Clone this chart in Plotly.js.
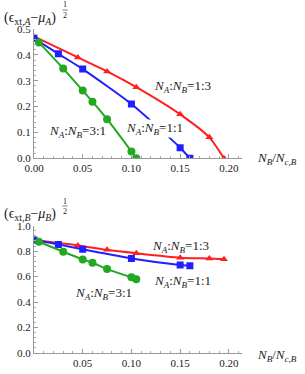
<!DOCTYPE html>
<html><head><meta charset="utf-8">
<script src="https://cdn.plot.ly/plotly-3.0.1.min.js"></script>
<style>html,body{margin:0;padding:0;background:#fff}#chart{width:305px;height:374px;position:relative}#veil{position:absolute;left:0;top:0;width:305px;height:374px;background:rgba(255,255,255,0.001);pointer-events:none}</style>
</head><body><div id="chart"></div>
<script>
// Data
const xRed   = [0, 0.045, 0.075, 0.105, 0.15, 0.18, 0.195];
const yRedA  = [0.471, 0.39, 0.336, 0.275, 0.17, 0.081, 0.0];
const yRedB  = [0.887, 0.845, 0.81, 0.783, 0.748, 0.742, 0.737];
const xBlue  = [0, 0.025, 0.05, 0.1, 0.15, 0.16];
const yBlueA = [0.464, 0.404, 0.345, 0.21, 0.041, 0.0];
const yBlueB = [0.887, 0.853, 0.814, 0.743, 0.692, 0.686];
const xGreen = [0.005, 0.03, 0.05, 0.06, 0.075, 0.1, 0.105];
const yGreenA= [0.448, 0.347, 0.262, 0.219, 0.151, 0.026, 0.0];
const yGreenB= [0.874, 0.795, 0.735, 0.709, 0.659, 0.594, 0.58];
const ratioLabels = ['1:3', '1:1', '3:1'];
const xTickTop = [0, 0.05, 0.10, 0.15, 0.20];
const xTickBot = [0.05, 0.10, 0.15, 0.20];
const yTickTop = [0, 0.1, 0.2, 0.3, 0.4, 0.5];
const yTickBot = [0, 0.2, 0.4, 0.6, 0.8, 1.0];

const RED='#ff1f1f', BLUE='#1f1fff', GREEN='#22a822';
const FONT="Liberation Serif";
const W=305, H=374, ML=34, MR=63, MT=29, MB=21;
const PW=W-ML-MR, PH=H-MT-MB;
const px=x=>(x-ML)/PW, py=y=>(H-MB-y)/PH;

function tr(x,y,c,sym,sz,xa,ya){
  return {x:x,y:y,xaxis:xa,yaxis:ya,mode:'lines+markers',type:'scatter',
    line:{color:c,width:2,shape:'spline',smoothing:0.6},
    marker:{color:c,symbol:sym,size:sz},showlegend:false,hoverinfo:'skip'};
}
const data=[
  tr(xRed,yRedA,RED,'triangle-up',7,'x','y'),
  tr(xBlue,yBlueA,BLUE,'square',7,'x','y'),
  tr(xGreen,yGreenA,GREEN,'circle',8,'x','y'),
  tr(xRed,yRedB,RED,'triangle-up',7,'x2','y2'),
  tr(xBlue,yBlueB,BLUE,'square',7,'x2','y2'),
  tr(xGreen,yGreenB,GREEN,'circle',8,'x2','y2')
];
function axis(range,domain,anchor,vals,dec,mdt){
  return {range:range,domain:domain,anchor:anchor,tickmode:'array',tickvals:vals,ticktext:vals.map(v=>v.toFixed(dec)),
    showline:true,linecolor:'#999',linewidth:1,ticks:'inside',ticklen:4,tickcolor:'#999',
    showgrid:false,zeroline:false,tickfont:{family:FONT,size:11,color:'#222'},
    minor:{dtick:mdt,ticks:'inside',ticklen:2,tickcolor:'#aaa',showgrid:false}};
}
function lab(r){return '<i>N<sub>A</sub></i>:<i>N<sub>B</sub></i>='+r;}
function ann(text,x,y,size,extra){
  return Object.assign({text:text,xref:'paper',yref:'paper',x:px(x),y:py(y),showarrow:false,
    xanchor:'center',yanchor:'middle',font:{family:FONT,size:size,color:'#222'}},extra||{});
}
const annotations=[];
const shapes=[];
[['A',0],['B',196]].forEach(([s,off])=>{
  annotations.push(ann('(ϵ<sub>xt,<i>'+s+'</i></sub>−<i>μ<sub>'+s+'</sub></i>)',2,18+off,14,{xanchor:'left'}));
  annotations.push(ann('1',65,5+off,8));
  annotations.push(ann('2',65,15.5+off,8));
  shapes.push({type:'line',xref:'paper',yref:'paper',x0:px(62.5),x1:px(67.5),y0:py(10+off),y1:py(10+off),line:{color:'#222',width:0.6}});
  annotations.push(ann('<i>N<sub>B</sub></i>/<i>N<sub>c,B</sub></i>',277,(s==='A'?158:355),13));
});
annotations.push(ann(lab(ratioLabels[0]),182.5,86,13));
annotations.push(ann(lab(ratioLabels[1]),154.5,128,13,{bgcolor:'#fff',borderpad:0}));
annotations.push(ann(lab(ratioLabels[2]),77,131,13));
annotations.push(ann(lab(ratioLabels[0]),180.5,246.7,13));
annotations.push(ann(lab(ratioLabels[1]),182.5,281.7,13));
annotations.push(ann(lab(ratioLabels[2]),103,293,13));

const layout={width:W,height:H,margin:{l:ML,r:MR,t:MT,b:MB},paper_bgcolor:'#fff',plot_bgcolor:'#fff',
  font:{family:FONT,color:'#222'},
  xaxis:axis([0,0.2135],[0,1],'y',xTickTop,2,0.01),
  yaxis:axis([0,0.5],[0.601,1],'x',yTickTop,1,0.02),
  xaxis2:axis([0,0.2135],[0,1],'y2',xTickBot,2,0.01),
  yaxis2:axis([0,1.0],[0,0.393],'x2',yTickBot,1,0.04),
  annotations:annotations,shapes:shapes
};
Plotly.newPlot('chart',data,layout,{displayModeBar:false}).then(gd=>{
  // force a full repaint of every tile
  document.querySelectorAll('body *').forEach(el=>{el.getBoundingClientRect();});
  const v=document.createElement('div'); v.id='veil'; gd.appendChild(v);
  gd.style.visibility='hidden'; void gd.offsetHeight; gd.style.visibility='visible';
  requestAnimationFrame(()=>{gd.style.opacity='0.999';requestAnimationFrame(()=>{gd.style.opacity='1';});});
});
</script></body></html>
